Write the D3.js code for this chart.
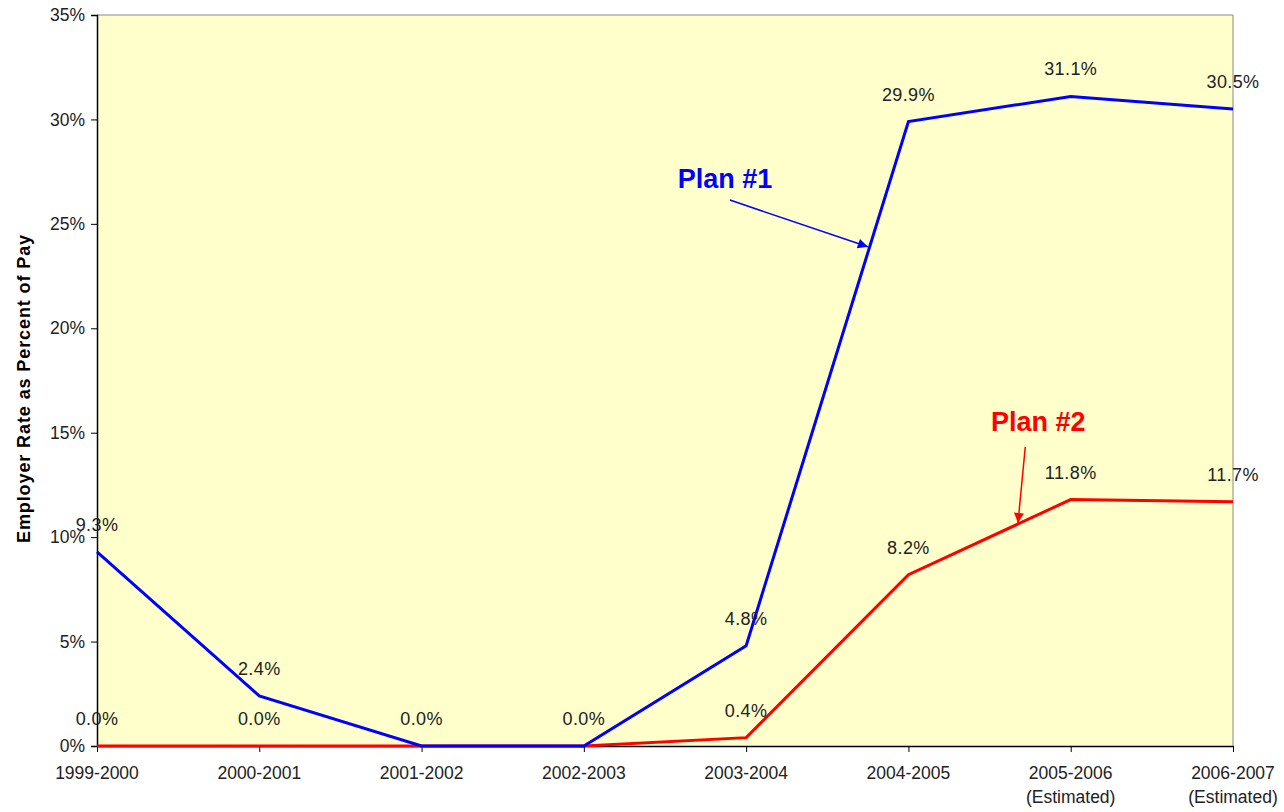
<!DOCTYPE html>
<html><head><meta charset="utf-8">
<script src="https://cdn.jsdelivr.net/npm/d3@7"></script>
<style>body{margin:0;background:#fff}text{font-family:"Liberation Sans",Arial,sans-serif}</style>
</head><body><svg id="c" width="1284" height="812"></svg>
<script>
const categories=["1999-2000","2000-2001","2001-2002","2002-2003","2003-2004","2004-2005","2005-2006","2006-2007"];
const categorySub=["","","","","","","(Estimated)","(Estimated)"];
const plan1=[9.3,2.4,0.0,0.0,4.8,29.9,31.1,30.5];
const plan2=[0.0,0.0,0.0,0.0,0.4,8.2,11.8,11.7];
const yTicks=[0,5,10,15,20,25,30,35];
const seriesNames=["Plan #1","Plan #2"];
const seriesColors=["#0000FF","#FF0000"];
// annotation anchors in data units: [category index, value]
const annText=[[3.87,26.7],[5.80,15.1]];
const annFrom=[[3.90,26.14],[5.72,14.32]];
const annTo=[[4.75,23.9],[5.675,10.68]];

const svg=d3.select("#c");
const m={l:97,r:1233,t:15,b:746};
const x=d3.scaleLinear().domain([0,categories.length-1]).range([m.l,m.r]);
const y=d3.scaleLinear().domain([0,35]).range([m.b,m.t]);

svg.append("rect").attr("x",m.l).attr("y",m.t).attr("width",m.r-m.l).attr("height",m.b-m.t).attr("fill","#FFFFCC");
svg.append("line").attr("x1",m.l).attr("x2",m.r).attr("y1",m.t).attr("y2",m.t).attr("stroke","#888").attr("stroke-width",1);
svg.append("line").attr("x1",m.r).attr("x2",m.r).attr("y1",m.t).attr("y2",m.b).attr("stroke","#888").attr("stroke-width",1);

// y axis
const ya=svg.append("g").attr("transform",`translate(${m.l},0)`)
 .call(d3.axisLeft(y).tickValues(yTicks).tickFormat(d=>d+"%").tickSize(6).tickPadding(6));
ya.select(".domain").attr("stroke","#000").attr("stroke-width",1.5);
ya.selectAll("line").attr("stroke","#000");
ya.selectAll("text").attr("font-size",17.5).attr("fill","#222").attr("font-family","Liberation Sans, Arial");

// x axis
const xa=svg.append("g").attr("transform",`translate(0,${m.b})`)
 .call(d3.axisBottom(x).tickValues(d3.range(categories.length)).tickFormat(()=>"").tickSize(6).tickSizeOuter(0));
xa.select(".domain").attr("stroke","#000").attr("stroke-width",1.5);
xa.selectAll("line").attr("stroke","#000");
const xl=svg.append("g");
categories.forEach((c,i)=>{
  xl.append("text").attr("x",x(i)).attr("y",m.b+33).attr("text-anchor","middle").attr("font-size",17.5).attr("fill","#222").text(c);
  if(categorySub[i]) xl.append("text").attr("x",x(i)).attr("y",m.b+57).attr("text-anchor","middle").attr("font-size",17.5).attr("fill","#222").text(categorySub[i]);
});

// y title
svg.append("text").attr("transform",`translate(30,${(m.t+m.b)/2+8}) rotate(-90)`).attr("text-anchor","middle")
 .attr("font-size",18).attr("font-weight","bold").attr("letter-spacing",0.9).attr("fill","#000").text("Employer Rate as Percent of Pay");

const line=d3.line().x((d,i)=>x(i)).y(d=>y(d));
[1,0].forEach(k=>{
  const s=k===0?plan1:plan2;
  svg.append("path").datum(s).attr("d",line).attr("fill","none").attr("stroke",seriesColors[k]).attr("stroke-width",3).attr("stroke-linejoin","miter");
});
// data labels (skip exact duplicates where both series coincide)
const labels=[];
plan2.forEach((d,i)=>labels.push({i,v:d}));
plan1.forEach((d,i)=>{ if(d!==plan2[i]) labels.push({i,v:d}); });
svg.append("g").selectAll("text").data(labels).join("text")
 .attr("x",d=>x(d.i)).attr("y",d=>y(d.v)-21).attr("text-anchor","middle").attr("font-size",18).attr("letter-spacing",0.4).attr("fill","#222")
 .text(d=>d.v.toFixed(1)+"%");

// annotations
const defs=svg.append("defs");
seriesColors.forEach((c,k)=>{
  defs.append("marker").attr("id","ar"+k).attr("viewBox","0 0 10 10").attr("refX",10).attr("refY",5)
   .attr("markerWidth",14).attr("markerHeight",10).attr("markerUnits","userSpaceOnUse").attr("orient","auto")
   .append("path").attr("d","M0,0L10,5L0,10z").attr("fill",c);
});
seriesNames.forEach((n,k)=>{
  svg.append("text").attr("x",x(annText[k][0])).attr("y",y(annText[k][1])).attr("text-anchor","middle")
   .attr("font-size",27).attr("font-weight","bold").attr("fill",seriesColors[k]).text(n);
  svg.append("line").attr("x1",x(annFrom[k][0])).attr("y1",y(annFrom[k][1])).attr("x2",x(annTo[k][0])).attr("y2",y(annTo[k][1]))
   .attr("stroke",seriesColors[k]).attr("stroke-width",1.5).attr("marker-end",`url(#ar${k})`);
});
</script></body></html>
